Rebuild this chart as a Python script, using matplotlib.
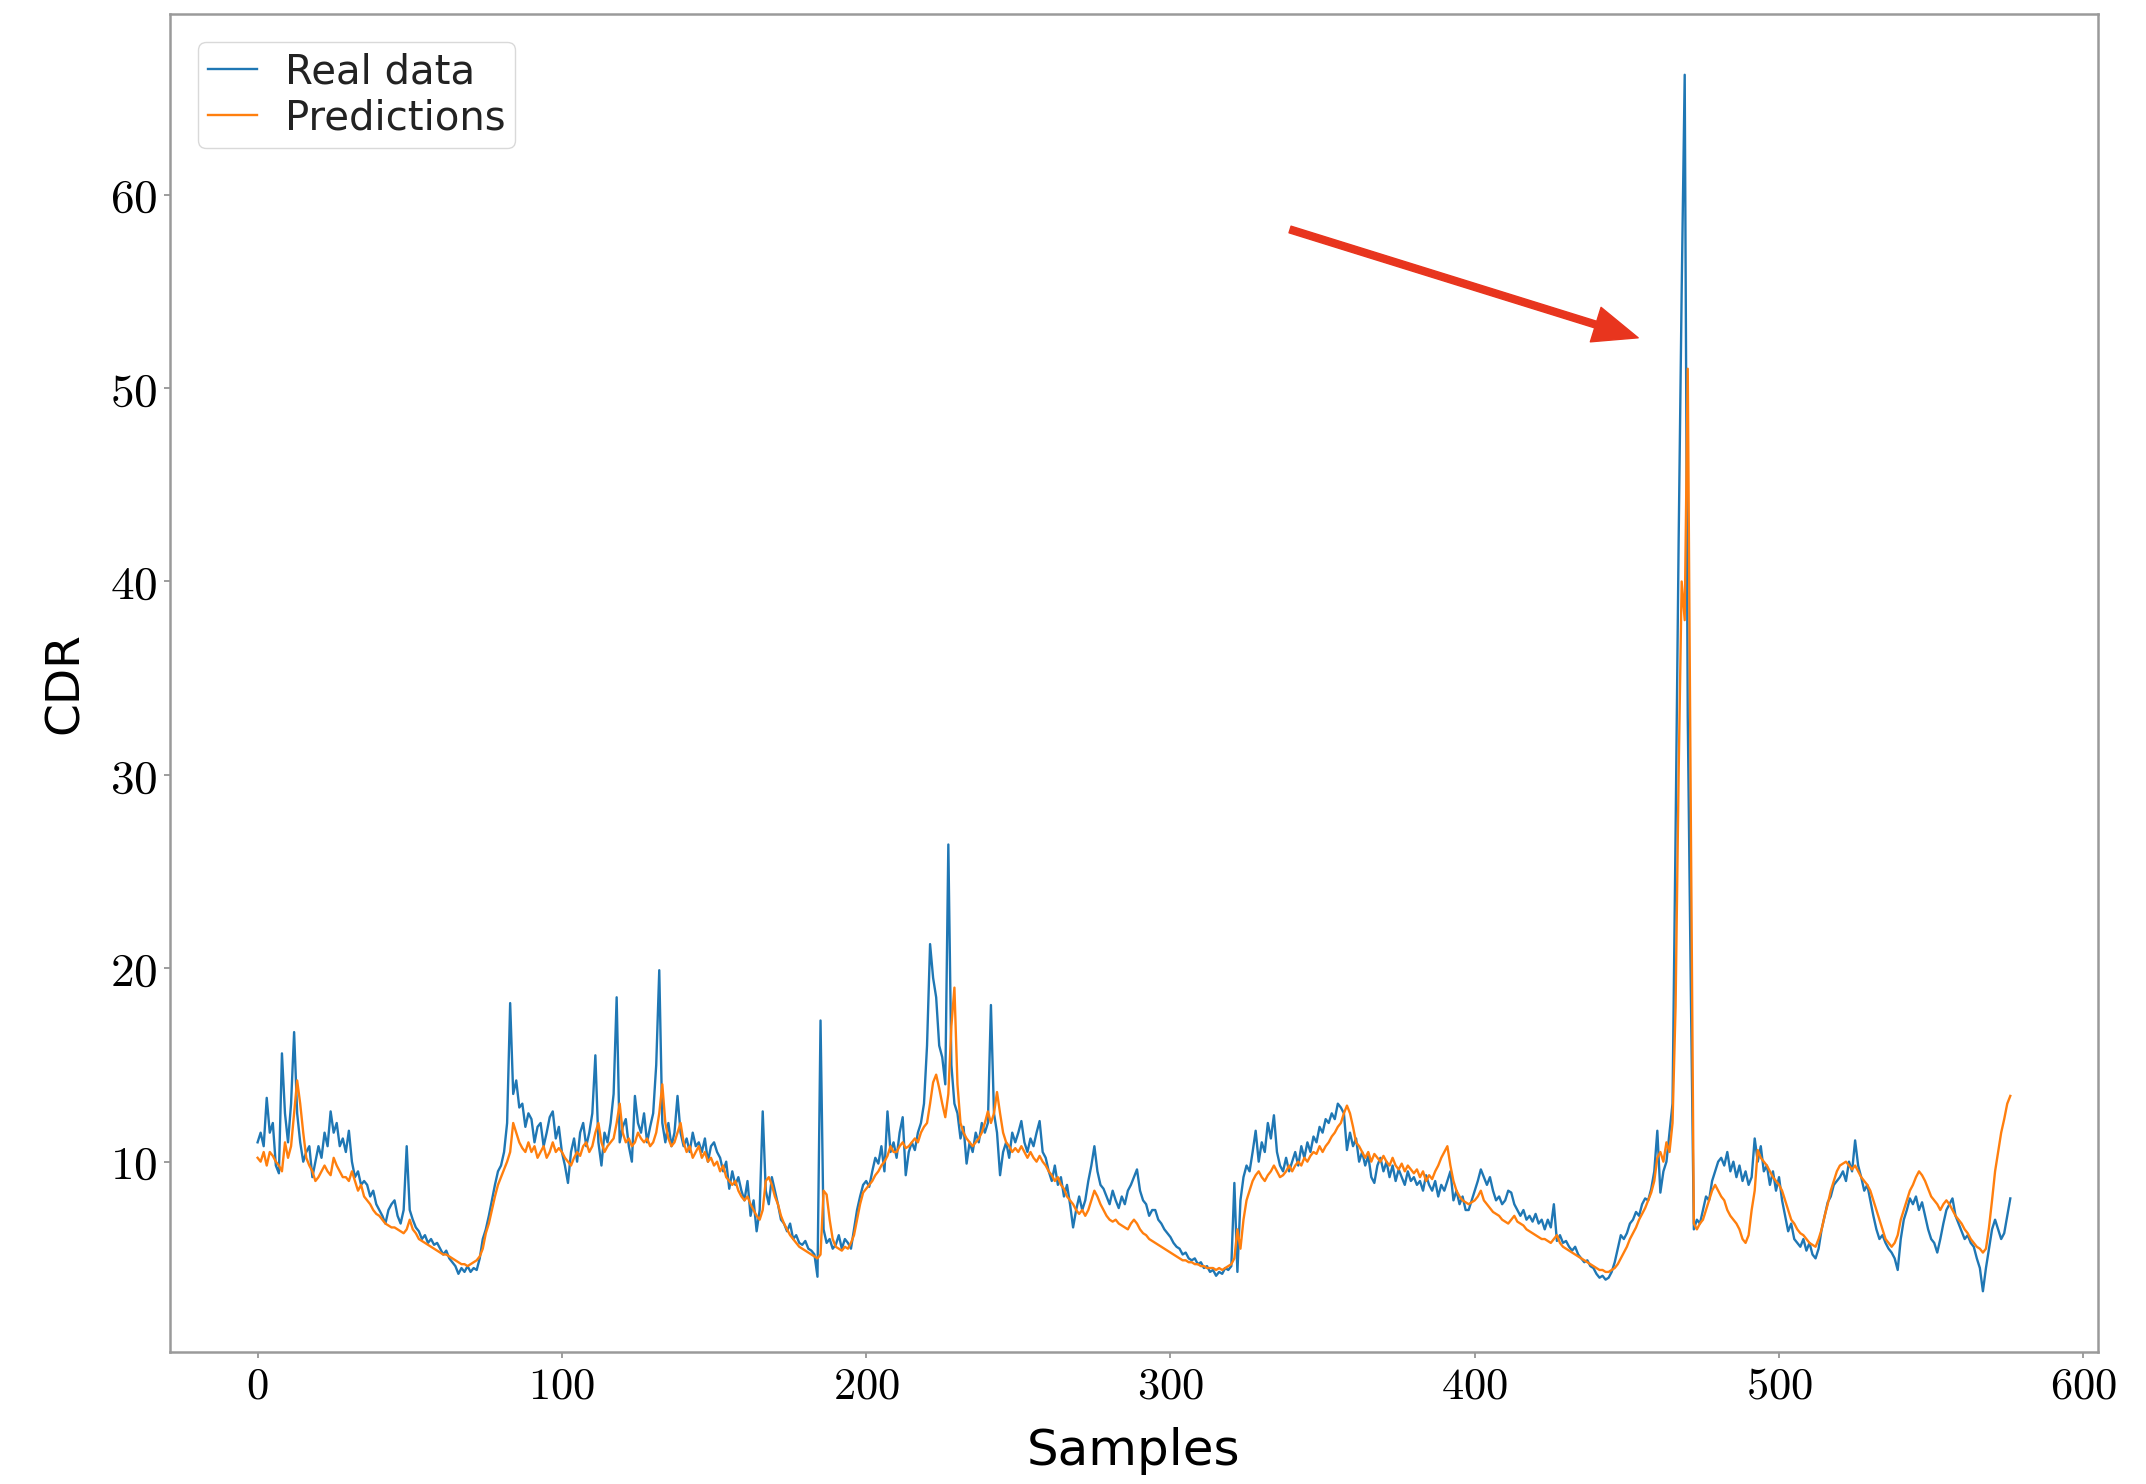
import matplotlib
matplotlib.use("Agg")
import matplotlib.pyplot as plt
from matplotlib.ticker import FuncFormatter, MultipleLocator
import numpy as np

plt.rcParams['mathtext.fontset'] = 'cm'

# CDR per sample (samples 0..576)
real_data = [
    11.0, 11.5, 10.8, 13.3, 11.5, 12.0, 9.8, 9.4, 15.6, 12.5,
    11.0, 13.0, 16.7, 12.5, 11.0, 10.0, 10.5, 10.8, 9.2, 10.0,
    10.8, 10.2, 11.5, 10.8, 12.6, 11.5, 12.0, 10.8, 11.2, 10.5,
    11.6, 10.0, 9.2, 9.5, 8.8, 9.0, 8.8, 8.2, 8.5, 7.8,
    7.5, 7.2, 6.8, 7.5, 7.8, 8.0, 7.2, 6.8, 7.5, 10.8,
    7.5, 7.0, 6.6, 6.4, 6.0, 6.2, 5.8, 6.0, 5.7, 5.8,
    5.5, 5.2, 5.4, 5.0, 4.8, 4.6, 4.2, 4.5, 4.3, 4.6,
    4.3, 4.5, 4.4, 5.0, 6.0, 6.5, 7.2, 8.0, 8.8, 9.5,
    9.8, 10.5, 12.0, 18.2, 13.5, 14.2, 12.8, 13.0, 11.8, 12.5,
    12.2, 11.0, 11.8, 12.0, 10.8, 11.5, 12.3, 12.6, 11.2, 11.8,
    10.5, 9.8, 8.9, 10.5, 11.2, 10.0, 11.5, 12.0, 10.8, 11.5,
    12.5, 15.5, 11.0, 9.8, 11.5, 11.0, 12.0, 13.5, 18.5, 11.0,
    11.8, 12.2, 10.8, 10.0, 13.4, 12.0, 11.5, 12.5, 11.0, 11.8,
    12.5, 15.0, 19.9, 12.0, 11.0, 12.0, 10.8, 11.5, 13.4, 11.5,
    10.8, 11.2, 10.5, 11.5, 10.8, 11.0, 10.5, 11.2, 10.0, 10.8,
    11.0, 10.5, 10.2, 9.5, 10.0, 8.6, 9.5, 8.8, 9.2, 8.5,
    8.0, 9.0, 7.2, 8.0, 6.4, 7.5, 12.6, 8.5, 7.8, 9.2,
    8.5, 7.8, 7.0, 6.8, 6.4, 6.8, 6.0, 6.2, 5.8, 5.7,
    5.9, 5.5, 5.4, 5.2, 4.05, 17.3, 6.5, 5.8, 6.0, 5.5,
    5.7, 6.2, 5.5, 6.0, 5.8, 5.5, 6.5, 7.5, 8.2, 8.8,
    9.0, 8.7, 9.5, 10.2, 9.9, 10.8, 9.5, 12.6, 10.5, 11.0,
    10.2, 11.5, 12.3, 9.3, 10.5, 11.0, 10.6, 11.5, 12.0, 13.0,
    16.0, 21.25, 19.5, 18.5, 16.0, 15.4, 14.0, 26.4, 15.0, 13.0,
    12.5, 11.2, 11.8, 9.9, 11.0, 10.5, 11.5, 11.0, 12.0, 11.5,
    12.0, 18.1, 12.5, 11.5, 9.3, 10.5, 11.0, 10.2, 11.5, 11.0,
    11.5, 12.1, 11.0, 10.5, 11.2, 10.8, 11.5, 12.1, 10.5, 10.2,
    9.5, 9.0, 9.8, 8.8, 9.2, 8.2, 8.8, 7.8, 6.6, 7.5,
    8.2, 7.5, 8.0, 9.0, 9.8, 10.8, 9.5, 8.8, 8.6, 8.2,
    7.8, 8.5, 8.0, 7.6, 8.2, 7.8, 8.5, 8.8, 9.2, 9.6,
    8.5, 8.0, 7.8, 7.2, 7.5, 7.5, 7.0, 6.8, 6.5, 6.3,
    6.1, 5.8, 5.6, 5.5, 5.2, 5.3, 5.0, 4.9, 5.0, 4.7,
    4.8, 4.5, 4.6, 4.3, 4.4, 4.1, 4.3, 4.2, 4.5, 4.4,
    4.6, 8.9, 4.3, 8.0, 9.2, 9.8, 9.5, 10.5, 11.6, 10.0,
    11.0, 10.5, 12.0, 11.2, 12.4, 10.5, 9.8, 9.5, 10.2, 9.5,
    10.0, 10.5, 9.8, 10.8, 10.2, 11.0, 10.5, 11.3, 11.0, 11.8,
    11.5, 12.2, 12.0, 12.5, 12.2, 13.0, 12.8, 12.5, 10.6, 11.5,
    10.8, 11.2, 10.0, 10.5, 9.8, 10.3, 9.2, 8.9, 9.8, 10.2,
    9.5, 10.0, 9.2, 9.8, 9.0, 9.6, 9.2, 8.8, 9.5, 9.0,
    9.2, 8.8, 9.0, 8.5, 9.3, 8.8, 8.5, 9.0, 8.2, 8.8,
    8.5, 9.0, 9.5, 8.0, 8.5, 7.8, 8.2, 7.5, 7.5, 8.0,
    8.5, 9.0, 9.6, 9.2, 8.8, 9.2, 8.5, 8.0, 8.2, 7.8,
    8.0, 8.5, 8.4, 7.8, 7.5, 7.2, 7.5, 7.0, 7.2, 6.9,
    7.3, 6.8, 7.0, 6.5, 7.0, 6.6, 7.8, 5.9, 6.2, 5.8,
    5.9, 5.6, 5.4, 5.6, 5.2, 5.0, 4.8, 4.9, 4.6, 4.5,
    4.2, 4.0, 4.1, 3.9, 4.0, 4.3, 4.8, 5.5, 6.2, 6.0,
    6.3, 6.8, 7.0, 7.4, 7.2, 7.8, 8.1, 8.0, 8.6, 9.5,
    11.6, 8.4, 9.5, 10.0, 11.5, 13.0, 27.0, 42.0, 55.0, 66.2,
    33.0, 19.0, 6.5, 7.0, 6.8, 7.5, 8.2, 8.0, 9.0, 9.5,
    10.0, 10.2, 9.8, 10.5, 9.5, 10.0, 9.2, 9.8, 9.0, 9.5,
    8.8, 9.2, 11.2, 10.0, 10.8, 9.5, 9.8, 8.8, 9.5, 8.5,
    9.2, 8.0, 7.2, 6.4, 6.8, 6.0, 5.8, 5.6, 6.0, 5.4,
    5.8, 5.2, 5.0, 5.5, 6.5, 7.2, 7.9, 8.2, 8.8, 9.0,
    9.2, 9.5, 9.0, 10.0, 9.5, 11.1, 9.8, 9.2, 8.5, 8.8,
    8.0, 7.2, 6.5, 6.0, 6.2, 5.8, 5.5, 5.3, 5.0, 4.4,
    6.0, 7.0, 7.5, 8.1, 7.8, 8.2, 7.5, 7.9, 7.2, 6.5,
    6.0, 5.8, 5.3, 6.0, 6.8, 7.5, 7.8, 8.1, 7.2, 6.8,
    6.4, 6.0, 6.2, 5.8, 5.6, 5.0, 4.5, 3.3, 4.5, 5.5,
    6.5, 7.0, 6.5, 6.0, 6.3, 7.2, 8.1,
]

predictions = [
    10.2, 10.0, 10.5, 9.8, 10.5, 10.3, 10.0, 9.8, 9.5, 11.0,
    10.2, 10.8, 12.5, 14.2, 13.0, 11.5, 10.2, 9.8, 9.5, 9.0,
    9.2, 9.5, 9.8, 9.5, 9.3, 10.2, 9.8, 9.5, 9.2, 9.2,
    9.0, 9.5, 9.0, 8.5, 8.8, 8.2, 8.0, 7.8, 7.5, 7.3,
    7.2, 7.0, 6.8, 6.7, 6.6, 6.6, 6.5, 6.4, 6.3, 6.5,
    7.0, 6.5, 6.3, 6.0, 5.9, 5.8, 5.7, 5.6, 5.5, 5.4,
    5.3, 5.2, 5.2, 5.1, 5.0, 4.9, 4.8, 4.7, 4.7, 4.6,
    4.7, 4.8, 4.9, 5.1, 5.5, 6.3, 6.8, 7.5, 8.2, 8.8,
    9.2, 9.6, 10.0, 10.5, 12.0, 11.5, 11.0, 10.7, 10.5, 11.0,
    10.5, 10.8, 10.2, 10.5, 10.8, 10.2, 10.5, 11.0, 10.5, 10.7,
    10.5, 10.2, 10.0, 9.8, 10.2, 10.5, 10.3, 10.8, 11.0, 10.5,
    10.8, 11.5, 12.0, 11.0, 10.5, 10.8, 11.0, 11.2, 12.0, 13.0,
    11.5, 11.0, 11.2, 10.8, 11.0, 11.5, 11.2, 11.0, 11.2, 10.8,
    11.0, 11.5, 12.5, 14.0, 12.0, 11.2, 10.8, 11.0, 11.5, 12.0,
    11.0, 10.5, 10.8, 10.2, 10.5, 10.8, 10.2, 10.5, 10.0, 10.2,
    9.8, 10.0, 9.5, 9.8, 9.2, 9.0, 8.8, 9.0, 8.5, 8.2,
    8.0, 8.2, 7.8, 7.5, 7.2, 7.0, 7.5, 9.0, 9.2, 8.8,
    8.2, 7.8, 7.2, 6.8, 6.5, 6.2, 6.0, 5.8, 5.6, 5.5,
    5.4, 5.3, 5.2, 5.1, 5.0, 5.2, 8.5, 8.3, 7.0, 6.0,
    5.6, 5.5, 5.4, 5.6, 5.5, 5.8, 6.2, 7.0, 7.8, 8.4,
    8.6, 8.8, 9.0, 9.3, 9.5, 9.8, 10.0, 10.3, 10.8, 10.5,
    10.5, 10.8, 11.0, 10.7, 10.8, 11.0, 11.2, 11.0, 11.5, 11.8,
    12.0, 13.0, 14.1, 14.5, 13.8, 13.0, 12.3, 13.5, 17.0, 19.0,
    14.0, 12.0, 11.5, 11.2, 11.0, 10.8, 11.0, 11.2, 11.5, 12.0,
    12.6, 12.0, 12.5, 13.6, 12.5, 11.5, 11.0, 10.8, 10.5, 10.7,
    10.5, 10.8, 10.5, 10.2, 10.5, 10.2, 10.0, 10.3, 10.0, 9.8,
    9.5, 9.3, 9.0, 9.2, 8.8, 8.6, 8.2, 8.0, 7.8, 7.5,
    7.3, 7.5, 7.2, 7.5, 8.0, 8.5, 8.2, 7.8, 7.5, 7.2,
    7.0, 6.9, 7.0, 6.8, 6.7, 6.6, 6.5, 6.8, 7.0, 6.8,
    6.5, 6.3, 6.2, 6.0, 5.9, 5.8, 5.7, 5.6, 5.5, 5.4,
    5.3, 5.2, 5.1, 5.0, 4.9, 4.9, 4.8, 4.8, 4.7, 4.7,
    4.6, 4.6, 4.5, 4.5, 4.5, 4.4, 4.5, 4.4, 4.5, 4.6,
    4.7, 5.0, 6.5, 5.5, 7.0, 8.0, 8.5, 9.0, 9.3, 9.5,
    9.2, 9.0, 9.3, 9.5, 9.8, 9.5, 9.2, 9.3, 9.5, 9.8,
    9.5, 9.8, 10.0, 9.8, 10.2, 10.0, 10.3, 10.5, 10.4, 10.8,
    10.5, 10.8, 11.0, 11.3, 11.5, 11.8, 12.0, 12.5, 12.9, 12.5,
    11.8, 11.0, 10.8, 10.5, 10.2, 10.5, 10.0, 10.4, 10.2, 10.0,
    10.3, 10.0, 9.8, 10.2, 9.8, 9.6, 9.9, 9.5, 9.8, 9.6,
    9.4, 9.6, 9.2, 9.5, 9.0, 9.3, 9.1, 9.5, 9.8, 10.2,
    10.5, 10.8, 9.8, 9.0, 8.5, 8.2, 8.0, 7.9, 7.8, 7.9,
    8.0, 8.2, 8.5, 8.0, 7.8, 7.6, 7.4, 7.3, 7.2, 7.0,
    6.9, 6.8, 7.0, 7.2, 6.9, 6.8, 6.7, 6.5, 6.4, 6.3,
    6.2, 6.1, 6.0, 6.0, 5.9, 5.8, 6.0, 6.2, 5.8, 5.6,
    5.5, 5.4, 5.3, 5.2, 5.1, 5.0, 4.9, 4.8, 4.7, 4.6,
    4.5, 4.4, 4.4, 4.3, 4.3, 4.4, 4.5, 4.7, 5.0, 5.3,
    5.6, 6.0, 6.3, 6.6, 7.0, 7.3, 7.6, 8.0, 8.4, 9.0,
    10.2, 10.5, 10.0, 11.0, 10.5, 12.0, 18.0, 30.0, 40.0, 38.0,
    51.0, 28.0, 6.8, 6.5, 6.8, 7.0, 7.5, 8.0, 8.5, 8.8,
    8.5, 8.2, 8.0, 7.5, 7.2, 7.0, 6.8, 6.5, 6.0, 5.8,
    6.2, 7.5, 8.5, 10.6, 10.2, 10.0, 9.8, 9.5, 9.2, 9.0,
    8.8, 8.5, 8.0, 7.5, 7.0, 6.8, 6.5, 6.3, 6.2, 6.0,
    5.8, 5.7, 5.6, 6.0, 6.5, 7.2, 7.8, 8.5, 9.0, 9.5,
    9.8, 9.9, 10.0, 9.8, 9.6, 9.8, 9.5, 9.2, 9.0, 8.8,
    8.5, 8.0, 7.5, 7.0, 6.5, 6.0, 5.8, 5.6, 5.8, 6.2,
    7.0, 7.5, 8.0, 8.5, 8.8, 9.2, 9.5, 9.3, 9.0, 8.6,
    8.2, 8.0, 7.8, 7.5, 7.8, 8.0, 7.8, 7.5, 7.2, 7.0,
    6.8, 6.5, 6.3, 6.0, 5.8, 5.6, 5.5, 5.3, 5.5, 6.6,
    8.0, 9.5, 10.5, 11.5, 12.2, 13.0, 13.4,
]

samples = np.arange(len(real_data))

fig = plt.figure(figsize=(21.46, 14.84), dpi=100)
ax = fig.add_axes([0.0792, 0.0889, 0.8984, 0.9017])

ax.plot(samples, real_data, color='#1f77b4', lw=1.7, label='Real data')
ax.plot(samples, predictions, color='#ff7f0e', lw=1.7, label='Predictions')

# red arrow pointing at the big spike
ax.annotate('', xy=(453.7, 52.6), xytext=(339.3, 58.2),
            arrowprops=dict(color='#e8351e', width=5, headwidth=26,
                            headlength=32, shrink=0.0))

ax.xaxis.set_major_locator(MultipleLocator(100))
ax.yaxis.set_major_locator(MultipleLocator(10))
fmt = FuncFormatter(lambda v, p: r'$%d$' % v)
ax.xaxis.set_major_formatter(fmt)
ax.yaxis.set_major_formatter(fmt)
ax.tick_params(labelsize=32, length=4, width=1.2, color='#8c8c8c', pad=5)
ax.tick_params(axis='y', labelsize=34)

for sp in ax.spines.values():
    sp.set_color('#9a9a9a')
    sp.set_linewidth(1.8)

ax.set_xlabel('Samples', fontsize=36, labelpad=14)
ax.set_ylabel('CDR', fontsize=34, labelpad=16)

leg = ax.legend(loc='upper left', fontsize=29, handlelength=1.2,
                handletextpad=0.7, labelspacing=0.15, borderpad=0.25,
                borderaxespad=0.7, frameon=True)
leg.get_frame().set_edgecolor('#d0d0d0')
for t in leg.get_texts():
    t.set_color('#222222')

fig.savefig('out.png', dpi=100)
